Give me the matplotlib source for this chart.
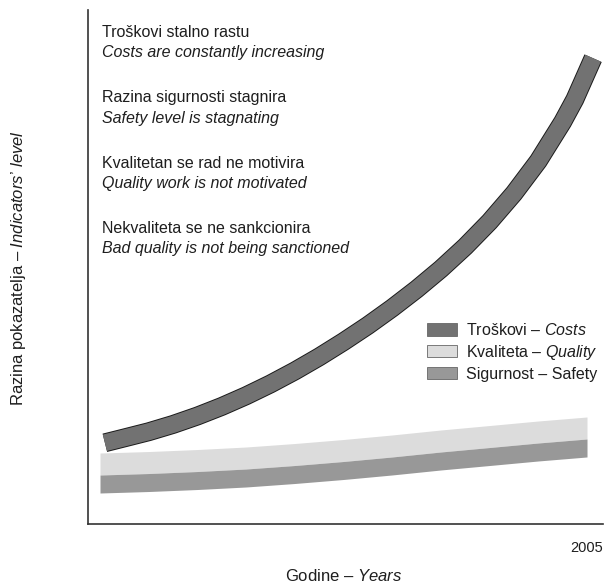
import matplotlib
matplotlib.use("Agg")
import matplotlib.pyplot as plt
import matplotlib.patheffects as pe
from matplotlib.patches import Patch

plt.rcParams['font.family'] = ['Liberation Sans', 'DejaVu Sans']
plt.rcParams['mathtext.fontset'] = 'custom'
plt.rcParams['mathtext.rm'] = 'Liberation Sans'
plt.rcParams['mathtext.it'] = 'Liberation Sans:italic'

# ---- data (arbitrary "level" units 0-100) ----
costs_years = [1985.2, 1986, 1987, 1988, 1989, 1990, 1991, 1992, 1993, 1994,
               1995, 1996, 1997, 1998, 1999, 2000, 2001, 2002, 2003, 2004, 2004.5,
               2005.25]
costs = [15.8, 16.75, 17.95, 19.37, 21.01, 22.87, 24.95, 27.25, 29.77, 32.51,
         35.47, 38.62, 42.02, 45.67, 49.62, 53.97, 58.82, 64.32, 70.62, 78.22, 82.6,
         90.62]

years = [1985, 1987, 1989, 1991, 1993, 1995, 1997, 1999, 2001, 2003, 2005]
quality = [11.67, 11.96, 12.35, 12.84, 13.52, 14.30, 15.18, 16.15, 17.02, 17.90, 18.68]
safety = [7.78, 8.07, 8.46, 8.95, 9.63, 10.41, 11.29, 12.26, 13.13, 14.01, 14.79]

tick_years = [2005]
tick_labels = ['2005']

series_labels = [r'Troškovi – $\mathit{Costs}$',
                 r'Kvaliteta – $\mathit{Quality}$',
                 'Sigurnost – Safety']

notes = [("Troškovi stalno rastu", "Costs are constantly increasing"),
         ("Razina sigurnosti stagnira", "Safety level is stagnating"),
         ("Kvalitetan se rad ne motivira", "Quality work is not motivated"),
         ("Nekvaliteta se ne sankcionira", "Bad quality is not being sanctioned")]

# ---- styles ----
c_costs = '#727272'
c_quality = '#dcdcdc'
c_safety = '#989898'
txt = '#1e1e1e'
W, H = 604, 584

fig = plt.figure(figsize=(W / 100, H / 100), dpi=100)
ax = fig.add_axes([88 / W, (H - 524) / H, (603 - 88) / W, (524 - 10) / H])
ax.set_xlim(1984.507, 2005.657)
ax.set_ylim(0, 100)

q_hw = 2.14
s_hw = 1.75
ax.fill_between(years, [v - q_hw for v in quality], [v + q_hw for v in quality],
                color=c_quality, lw=0, zorder=2)
ax.fill_between(years, [v - s_hw for v in safety], [v + s_hw for v in safety],
                color=c_safety, lw=0, zorder=2)

line, = ax.plot(costs_years, costs, color=c_costs, lw=12.2,
                solid_capstyle='butt', solid_joinstyle='round', zorder=3)
line.set_path_effects([pe.Stroke(linewidth=13.6, foreground='#1a1a1a'), pe.Normal()])

for s in ['top', 'right']:
    ax.spines[s].set_visible(False)
for s in ['left', 'bottom']:
    ax.spines[s].set_color('#333333')
    ax.spines[s].set_linewidth(1.2)

ax.set_yticks([])
ax.set_xticks(tick_years)
ax.set_xticklabels(tick_labels)
ax.tick_params(axis='x', length=0, pad=12, labelsize=10.5, labelcolor=txt)

# annotations
base0 = 37
for i, (hr, en) in enumerate(notes):
    b = base0 + i * 65.3
    fig.text(102 / W, 1 - b / H, hr, fontsize=11.5, color=txt, va='baseline', ha='left')
    fig.text(102 / W, 1 - (b + 20.5) / H, en, fontsize=11.5, color=txt, va='baseline',
             ha='left', style='italic')

# legend
handles = [Patch(facecolor=c, edgecolor='#666666', linewidth=0.6)
           for c in (c_costs, c_quality, c_safety)]
fig.legend(handles, series_labels, loc='upper left',
           bbox_to_anchor=(427 / W, 1 - 322 / H), frameon=False, fontsize=11.5,
           handlelength=1.85, handleheight=0.8, handletextpad=0.6,
           labelspacing=0.3, borderpad=0, borderaxespad=0, labelcolor=txt)

# axis labels
fig.text(344 / W, 1 - 576 / H, r'Godine – $\mathit{Years}$', fontsize=12, color=txt,
         ha='center', va='center')
fig.text(19 / W, 1 - 268 / H, r'Razina pokazatelja – $\mathit{Indicators’\ level}$',
         fontsize=12, color=txt, ha='center', va='center', rotation=90)

fig.savefig('out.png', dpi=100)
